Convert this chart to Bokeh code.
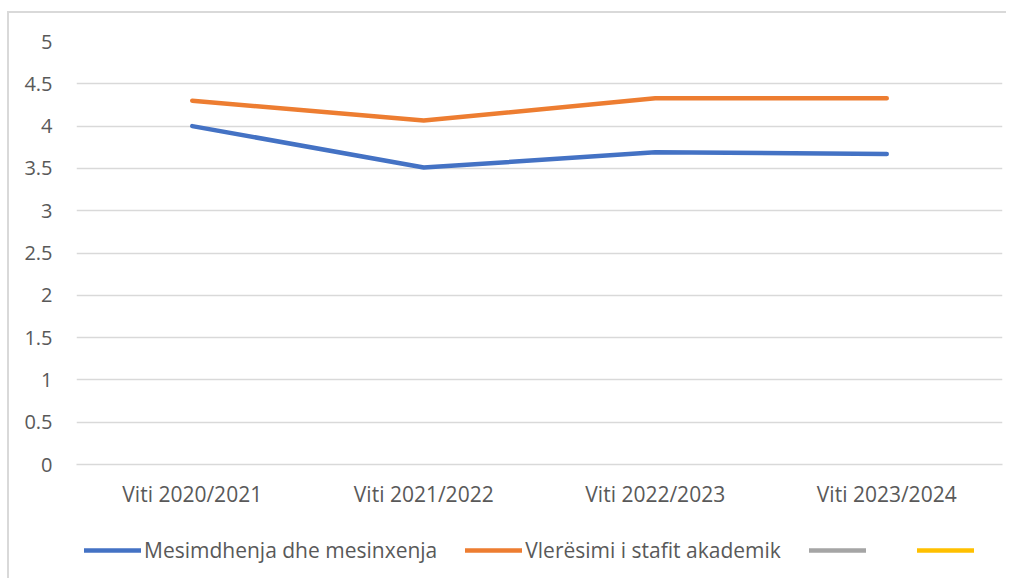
from bokeh.plotting import figure
from bokeh.layouts import column
from bokeh.models import ColumnDataSource, FactorRange, Range1d, Legend, LegendItem, SingleIntervalTicker
from bokeh.embed import file_html
from bokeh.resources import INLINE

nan = float("nan")
categories = ["Viti 2020/2021", "Viti 2021/2022", "Viti 2022/2023", "Viti 2023/2024"]
mesimdhenja = [4.00, 3.51, 3.69, 3.67]
vleresimi = [4.30, 4.065, 4.33, 4.33]
series3 = [nan, nan, nan, nan]
series4 = [nan, nan, nan, nan]
names = ["Mesimdhenja dhe mesinxenja", "Vlerësimi i stafit akademik", " ", " "]
colors = ["#4472C4", "#ED7D31", "#A5A5A5", "#FFC000"]

FONT = "Open Sans"
TXT = "#595959"

p = figure(width=1006, height=520, x_range=FactorRange(*categories, range_padding=0),
           y_range=Range1d(0, 5), output_backend="svg", toolbar_location=None,
           min_border_left=76, min_border_right=4, min_border_top=41, min_border_bottom=56)
p.outline_line_color = None
p.border_fill_color = None
p.background_fill_color = None

all_series = [mesimdhenja, vleresimi, series3, series4]
for vals, c in zip(all_series, colors):
    src = ColumnDataSource(dict(x=categories, y=vals))
    p.line("x", "y", source=src, line_color=c, line_width=4.5, line_cap="round", line_join="round")

p.xgrid.grid_line_color = None
p.ygrid.grid_line_color = "#d9d9d9"
p.ygrid.grid_line_width = 1.5
p.yaxis.ticker = SingleIntervalTicker(interval=0.5)
p.yaxis.axis_line_color = None
p.yaxis.major_tick_line_color = None
p.yaxis.minor_tick_line_color = None
p.yaxis.major_label_standoff = 18
p.xaxis.axis_line_color = "#d9d9d9"
p.xaxis.axis_line_width = 1.5
p.xaxis.major_tick_line_color = None
p.xaxis.major_label_standoff = 9
for ax in (p.xaxis, p.yaxis):
    ax.major_label_text_font = FONT
    ax.major_label_text_font_size = "21px"
    ax.major_label_text_color = TXT
p.yaxis.major_label_text_font_size = "20px"

# legend-only strip below the chart (its lines lie outside its visible y range)
lf = figure(width=1006, height=58, x_range=FactorRange(*categories, range_padding=0),
            y_range=Range1d(10, 11), x_axis_type=None, y_axis_type=None,
            output_backend="svg", toolbar_location=None, min_border=0)
lf.outline_line_color = None
lf.border_fill_color = None
lf.background_fill_color = None
lf.xgrid.grid_line_color = None
lf.ygrid.grid_line_color = None
lrs = []
for vals, c in zip(all_series, colors):
    src = ColumnDataSource(dict(x=categories, y=vals))
    lrs.append(lf.line("x", "y", source=src, line_color=c, line_width=4.5, line_cap="round"))
items = [LegendItem(label=n, renderers=[r]) for n, r in zip(names, lrs)]
legend = Legend(items=items, orientation="horizontal", location=(8, 14),
                label_text_font=FONT, label_text_font_size="21px", label_text_color=TXT,
                glyph_width=57, glyph_height=20, label_standoff=3, spacing=28,
                border_line_color=None, background_fill_alpha=0, margin=0, padding=4)
lf.add_layout(legend, "center")

layout = column(p, lf, spacing=0,
                styles={"box-shadow": "inset 7px 11px 0 0 #ffffff, inset 9px 13px 0 0 #d9d9d9",
                        "background": "#ffffff"})
open("out.html", "w").write(file_html(layout, INLINE))
